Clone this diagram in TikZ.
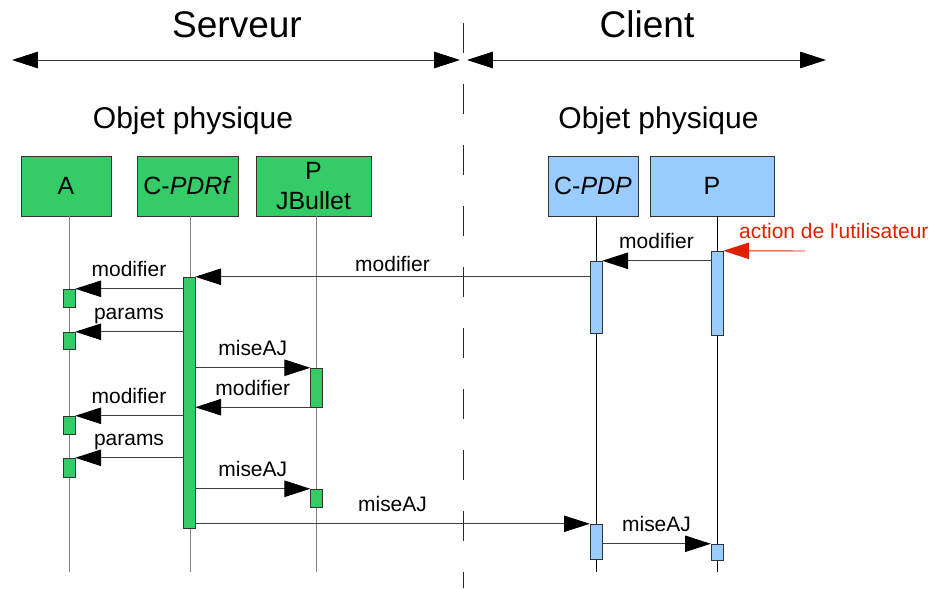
\documentclass[tikz,border=0pt]{standalone}
\usepackage{fontspec}
\setmainfont{Liberation Sans}
\usetikzlibrary{arrows.meta}
\definecolor{srvgreen}{HTML}{33CC66}
\definecolor{cliblue}{HTML}{99CCFF}
\definecolor{actred}{HTML}{DC2300}

\begin{document}
\begin{tikzpicture}[
    x=0.03cm, y=-0.03cm,
    objet/.style={rectangle, draw=black!80, minimum height=1.8cm,
                  inner sep=0pt, align=center, font=\fontsize{21.3}{25}\selectfont},
    srv/.style={objet, fill=srvgreen},
    cli/.style={objet, fill=cliblue},
    bar/.style={rectangle, draw=black!80, inner sep=0pt, minimum width=0.36cm},
    gbar/.style={bar, fill=srvgreen},
    bbar/.style={bar, fill=cliblue},
    life/.style={line width=0.8pt},
    msg/.style={-{Triangle[length=22pt,width=14pt,color=black]}, line width=0.8pt, draw=black!75},
    span/.style={{Triangle[length=22pt,width=14pt,color=black]}-{Triangle[length=22pt,width=14pt,color=black]},
                 line width=0.8pt, draw=black!80},
    lbl/.style={above=#1, inner sep=2pt, text depth=0pt, font=\fontsize{17.9}{20}\selectfont},
    lbl/.default=8pt,
    titre/.style={anchor=base, font=\fontsize{31.6}{36}\selectfont},
    sous/.style={anchor=base, font=\fontsize{25.6}{30}\selectfont}
]
    \useasboundingbox (0,0) rectangle (933,588);

    % en-tetes
    \node[titre] (serveur) at (237,37) {Serveur};
    \node[titre] (client)  at (647,37) {Client};
    \coordinate (srvL) at (12,60);
    \coordinate (srvR) at (460,60);
    \coordinate (cliL) at (467,60);
    \coordinate (cliR) at (826,60);
    \draw[span] (srvL) -- (srvR);
    \draw[span] (cliL) -- (cliR);
    \node[sous] (physS) at (193,128) {Objet physique};
    \node[sous] (physC) at (658.5,128) {Objet physique};

    % separation
    \coordinate (sep-haut) at (463,23);
    \coordinate (sep-bas)  at (463,588);
    \draw[black!85, line width=0.8pt, dash pattern=on 25.6pt off 26.5pt] (sep-haut) -- (sep-bas);

    % objets
    \node[srv, minimum width=2.7cm]  (A)    at (66,186)    {A};
    \node[srv, minimum width=3.03cm] (pdrf) at (187.5,186) {C-\textit{PDRf}};
    \node[srv, minimum width=3.45cm] (pjb)  at (313.5,186) {P\\JBullet};
    \node[cli, minimum width=2.7cm]  (pdp)  at (593,186)   {C-\textit{PDP}};
    \node[cli, minimum width=3.72cm] (P)    at (712,186)   {P};

    % lignes de vie
    \coordinate (A-fin)    at (69,572);
    \coordinate (pdrf-fin) at (190,572);
    \coordinate (pjb-fin)  at (316,572);
    \coordinate (pdp-fin)  at (596,572);
    \coordinate (P-fin)    at (717,572);
    \draw[life, gray] (A.south -| A-fin) -- (A-fin);
    \draw[life, gray] (pdrf.south -| pdrf-fin) -- (pdrf-fin);
    \draw[life, gray] (pjb.south -| pjb-fin) -- (pjb-fin);
    \draw[life] (pdp.south -| pdp-fin) -- (pdp-fin);
    \draw[life] (P.south -| P-fin) -- (P-fin);

    % activations
    \node[gbar, minimum height=7.53cm] (pdrf-act) at (189,402.5) {};
    \node[gbar, minimum height=0.54cm] (A-act1)   at (69,298)    {};
    \node[gbar, minimum height=0.51cm] (A-act2)   at (69,340.5)  {};
    \node[gbar, minimum height=0.54cm] (A-act3)   at (69,425)    {};
    \node[gbar, minimum height=0.57cm] (A-act4)   at (69,467.5)  {};
    \node[gbar, minimum height=1.17cm] (pjb-act1) at (316.5,387.5) {};
    \node[gbar, minimum height=0.54cm] (pjb-act2) at (316.5,498) {};
    \node[bbar, minimum height=2.16cm] (pdp-act1) at (596,297)   {};
    \node[bbar, minimum height=1.05cm] (pdp-act2) at (596,541.5) {};
    \node[bbar, minimum height=2.52cm] (P-act1)   at (717,293)   {};
    \node[bbar, minimum height=0.48cm] (P-act2)   at (717,552)   {};

    % messages
    \coordinate (usr) at (805,251);
    \draw[line width=0.8pt, draw=actred, -{Triangle[length=22pt,width=14pt]}] (usr)
        -- node[pos=0.84, anchor=south west, yshift=8pt, inner sep=2pt,
        text depth=0pt, text=actred, font=\fontsize{17.9}{20}\selectfont]
        {action de l\textquotesingle utilisateur} (P-act1.north east);
    \draw[msg] (P-act1.west |- pdp-act1.north) -- node[lbl] {modifier} (pdp-act1.north east);
    \draw[msg] (pdp-act1.west |- pdrf-act.north) -- node[lbl=2.3pt] {modifier} (pdrf-act.north east);
    \draw[msg] (pdrf-act.west |- A-act1.north) -- node[lbl] {modifier} (A-act1.north east);
    \draw[msg] (pdrf-act.west |- A-act2.north) -- node[lbl] {params} (A-act2.north east);
    \draw[msg] (pdrf-act.east |- pjb-act1.north) -- node[lbl] {miseAJ} (pjb-act1.north west);
    \draw[msg] (pjb-act1.south west) -- node[lbl] {modifier} (pdrf-act.east |- pjb-act1.south);
    \draw[msg] (pdrf-act.west |- A-act3.north) -- node[lbl] {modifier} (A-act3.north east);
    \draw[msg] (pdrf-act.west |- A-act4.north) -- node[lbl] {params} (A-act4.north east);
    \draw[msg] (pdrf-act.east |- pjb-act2.north) -- node[lbl] {miseAJ} (pjb-act2.north west);
    \draw[msg] (pdrf-act.east |- pdp-act2.north) -- node[lbl] {miseAJ} (pdp-act2.north west);
    \draw[msg] (pdp-act2.east |- P-act2.north) -- node[lbl] {miseAJ} (P-act2.north west);
\end{tikzpicture}
\end{document}
